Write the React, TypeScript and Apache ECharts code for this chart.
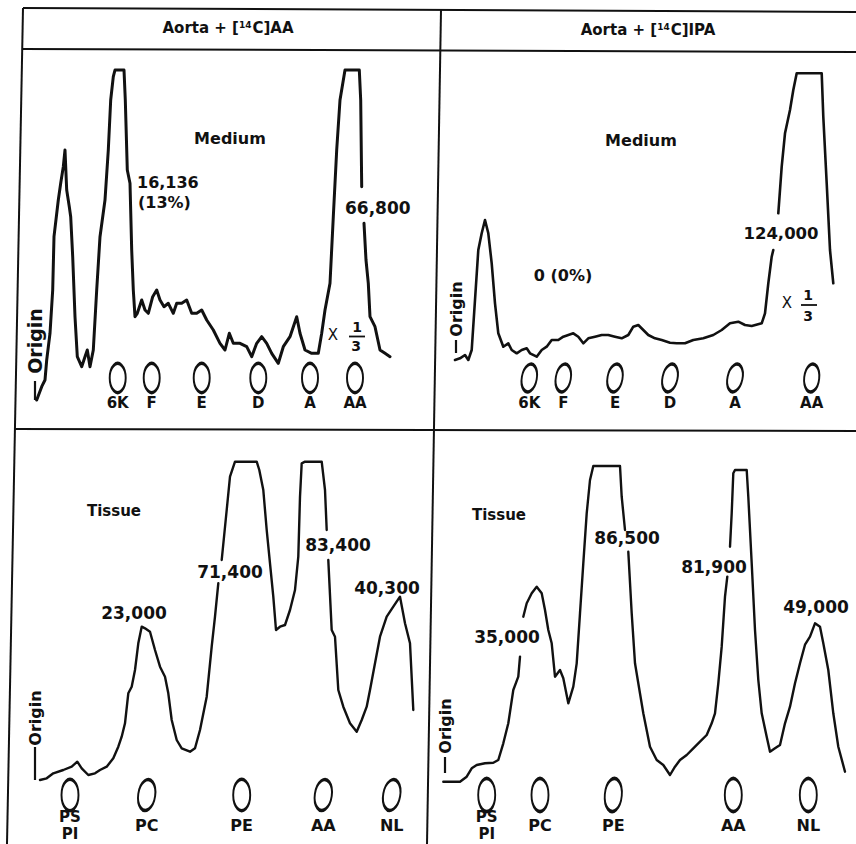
import React, { useEffect, useRef } from "react";
import * as echarts from "echarts";

type Pt = [number, number | null];

// Traces: x = distance along the strip (scan units), y = radioactivity (scan units)
const TL_TRACE: Pt[] = [
  [22.7, 29], [27.7, 42.3], [31, 49], [32.7, 69], [36, 95.7], [38.7, 139], [40, 192.3], [44.3, 229],
  [46.7, 245.7], [49.3, 262.3], [51, 279], [52.7, 239], [55.3, 222.3], [56.7, 212.3], [58.7, 172.3],
  [61, 112.3], [63.3, 72.3], [67.7, 62.3], [71, 72.3], [73.3, 79], [76, 62.3], [79.3, 79], [82.7, 139],
  [86, 192.3], [91, 229], [94.3, 279], [96.7, 329], [99.3, 352.3], [101, 359], [110, 359], [111.3, 329],
  [113.3, 259], [116, 245.7], [117.7, 179], [119.3, 139], [121, 112.3], [123.3, 115.7], [127.7, 129],
  [131, 119], [134.3, 115.7], [138.7, 132.3], [142.7, 139], [146, 129], [150, 122.3], [154.3, 125.7],
  [159.3, 115.7], [162.7, 125.7], [167.7, 125.7], [172.7, 129], [177.7, 115.7], [182.7, 115.7],
  [187.7, 119], [192.7, 109], [199.3, 99], [206, 85.7], [211, 79], [215.3, 95.7], [219.3, 85.7],
  [226, 85.7], [232.7, 82.3], [237.7, 72.3], [242.7, 85.7], [247.7, 92.3], [252.7, 85.7], [257.7, 75.7],
  [264.3, 65.7], [269.3, 82.3], [276, 92.3], [282.7, 112.3], [286, 95.7], [291, 79], [297.7, 75.7],
  [304.3, 75.7], [307.7, 95.7], [311, 119], [316, 145.7], [319.3, 212.3], [322.7, 279], [326, 329],
  [331, 359], [345.3, 359], [346.7, 329], [347.7, 242.3], [348.8, null], [350, 205.7], [352, 169],
  [354.3, 145.7], [356, 112.3], [361, 102.3], [366, 79], [371, 75.7], [376, 72.3],
];

const TR_TRACE: Pt[] = [
  [15, 69], [20, 70.7], [25, 74], [28.3, 69], [31.7, 79], [35, 129], [38.3, 179], [41.7, 195.7],
  [45, 209], [48.3, 195.7], [51.7, 165.7], [55, 125.7], [58.3, 95.7], [63.3, 82.3], [68.3, 85.7],
  [71.7, 79], [76.7, 75.7], [81.7, 79], [86.7, 80.7], [90, 75.7], [96.7, 72.3], [101.7, 79],
  [106.7, 82.3], [111.7, 89], [118.3, 89], [123.3, 92.3], [128.3, 94], [133.3, 95.7], [138.3, 92.3],
  [143.3, 85.7], [148.3, 90.7], [155, 92.3], [161.7, 94], [168.3, 94], [175, 92.3], [181.7, 90.7],
  [188.3, 94], [193.3, 102.3], [198.3, 104], [203.3, 99], [208.3, 94], [215, 90.7], [221.7, 89],
  [230, 86.3], [236.7, 85.7], [245, 85.7], [253.3, 89], [263.3, 90.7], [273.3, 94], [281.7, 99],
  [290, 105.7], [298.3, 107.3], [305, 104], [311.7, 103], [321.7, 105.7], [325, 115.7], [328.3, 145.7],
  [331.7, 172.3], [333.3, 179], [335.8, null], [338.3, 215.7], [341.7, 262.3], [345, 295.7], [350, 319],
  [353.3, 339], [356.7, 355.7], [381.7, 355.7], [383.3, 312.3], [386.7, 245.7], [390, 179], [393.3, 145.7],
];

const BL_TRACE: Pt[] = [
  [26, 64], [32.7, 65.7], [39.3, 70.7], [49.3, 74], [57.7, 77.3], [63.3, 82.3], [67.7, 75.7], [74.3, 69],
  [81, 70.7], [86, 74], [92.7, 77.3], [99.3, 85.7], [104.3, 97.3], [107.7, 107.3], [111, 120.7],
  [114.3, 150.7], [117.7, 157.3], [121, 174], [124.3, 200.7], [127.7, 217.3], [131, 215.7], [136, 212.3],
  [141, 194], [146, 177.3], [151, 167.3], [154.3, 150.7], [157.7, 124], [162.7, 104], [167.7, 95.7],
  [176, 92.3], [181, 95.7], [186, 114], [192.7, 147.3], [197.7, 197.3], [201, 227.3], [204.3, 260.7],
  [206, null], [207.7, 284], [212.7, 334], [216, 367.3], [221, 382.3], [242.7, 382.3], [245.3, 374],
  [249.3, 354], [252.7, 314], [256, 280.7], [259.3, 247.3], [262, 214], [266, 217.3], [271, 219],
  [276, 234], [281, 254], [284.3, 287.3], [286, 347.3], [287.7, 380.7], [291, 382.3], [307.7, 382.3],
  [311, 354], [312.7, 314], [313.5, null], [314.3, 284], [317.7, 214], [321, 207.3], [324.3, 154],
  [329.3, 137.3], [336, 120.7], [342.7, 112.3], [347.7, 124], [352.7, 137.3], [356, 154], [361, 180.7],
  [366, 207.3], [372.7, 227.3], [379.3, 237.3], [386, 247.3], [391, 220.7], [396, 200.7], [399.3, 134],
];

const BR_TRACE: Pt[] = [
  [3.3, 62.3], [20, 62.3], [26.7, 67.3], [31.7, 75.7], [36.7, 79], [45, 80.7], [53.3, 81.3], [58.3, 84],
  [63.3, 100.7], [68.3, 120.7], [73.3, 154], [78.3, 167.3], [80, 187.3], [81.7, null], [83.3, 227.3],
  [86.7, 240.7], [91.7, 250.7], [96.7, 257.3], [101.7, 250.7], [105, 234], [108.3, 214], [111.7, 200.7],
  [115, 167.3], [120, 174], [123.3, 165.7], [128.3, 140.7], [133.3, 157.3], [136.7, 180.7], [140, 230.7],
  [143.3, 280.7], [146.7, 330.7], [150, 364], [153.3, 378], [180, 378], [181.7, 347.3], [185, 314],
  [186.7, null], [188.3, 292.3], [191.7, 230.7], [195, 180.7], [198.3, 160.7], [203.3, 130.7], [210, 97.3],
  [216.7, 84], [223.3, 79], [230, 69], [235, 77.3], [240, 84], [246.7, 89], [253.3, 95.7], [260, 102.3],
  [266.7, 109], [271.7, 120.7], [275, 130.7], [278.3, 160.7], [281.7, 197.3], [285, 247.3], [287.3, 267.3],
  [288.7, null], [290, 297.3], [291.7, 330.7], [293.3, 370.7], [295, 374], [306.7, 374], [308.3, 347.3],
  [311.7, 280.7], [315, 214], [318.3, 164], [321.7, 130.7], [326.7, 107.3], [330, 92.3], [335, 95.7],
  [340, 99], [345, 120.7], [350, 137.3], [355, 160.7], [360, 180.7], [365, 199.3], [370, 207.3],
  [375, 220.7], [380, 217.3], [383.3, 200.7], [388.3, 174], [393.3, 130.7], [398.3, 97.3], [405, 72.3],
];

// Reference spots (standards) and their positions along the strip
const MEDIUM_SPOTS = ["6K", "F", "E", "D", "A", "AA"];
const TL_SPOT_X = [103.7, 137.7, 187.7, 244.3, 296, 341];
const TR_SPOT_X = [89.3, 123.3, 175, 230, 295, 371.7];
const TISSUE_SPOTS = ["PS\nPI", "PC", "PE", "AA", "NL"];
const BL_SPOT_X = [56, 132.7, 227.7, 309.3, 377.7];
const BR_SPOT_X = [46.7, 100, 173.3, 293.3, 368.3];

// Texts
const HEADERS = ["Aorta + [{s|14}C]AA", "Aorta + [{s|14}C]IPA"];
const TL_NOTES = ["Medium", "16,136", "(13%)", "66,800"];
const TR_NOTES = ["Medium", "0 (0%)", "124,000"];
const BL_NOTES = ["Tissue", "23,000", "71,400", "83,400", "40,300"];
const BR_NOTES = ["Tissue", "35,000", "86,500", "81,900", "49,000"];

const FONT = "DejaVu Sans";
const INK = "#111";

export default function App() {
  const ref = useRef<HTMLDivElement>(null);
  useEffect(() => {
    if (!ref.current) return;
    const chart = echarts.init(ref.current, undefined, { renderer: "svg" });

    const panels = [
      { grid: { left: 14, top: 49, width: 426, height: 380 }, trace: TL_TRACE, names: MEDIUM_SPOTS, sx: TL_SPOT_X, sy: 51, ly: 26, size: [16, 29], tilt: [0, 0, 0, 0, 0, 0], lw: 3, fs: 15 },
      { grid: { left: 440, top: 49, width: 416, height: 380 }, trace: TR_TRACE, names: MEDIUM_SPOTS, sx: TR_SPOT_X, sy: 51, ly: 26, size: [15, 28], tilt: [-10, -10, -10, -12, -12, -6], lw: 2.6, fs: 15 },
      { grid: { left: 14, top: 429, width: 426, height: 415 }, trace: BL_TRACE, names: TISSUE_SPOTS, sx: BL_SPOT_X, sy: 49, ly: 19, size: [17, 31], tilt: [0, -8, 0, -8, -10], lw: 2.4, fs: 16 },
      { grid: { left: 440, top: 429, width: 416, height: 415 }, trace: BR_TRACE, names: TISSUE_SPOTS, sx: BR_SPOT_X, sy: 49, ly: 19, size: [17, 33], tilt: [0, 0, -5, 0, 0], lw: 2.4, fs: 16 },
    ];

    const series: any[] = [];
    panels.forEach((p, i) => {
      series.push({
        type: "line", xAxisIndex: i, yAxisIndex: i, data: p.trace, showSymbol: false, symbol: "none",
        lineStyle: { color: INK, width: p.lw, join: "round", cap: "round" }, silent: true, z: 3,
      });
      series.push({
        type: "scatter", xAxisIndex: i, yAxisIndex: i, symbol: "circle", symbolSize: p.size,
        data: p.sx.map((x, k) => ({ name: p.names[k], value: [x, p.sy], symbolRotate: p.tilt[k] })),
        itemStyle: { color: "rgba(255,255,255,0)", borderColor: INK, borderWidth: 2.6, opacity: 1 }, silent: true, z: 3,
      });
      series.push({
        type: "scatter", xAxisIndex: i, yAxisIndex: i, symbolSize: 1,
        data: p.sx.map((x, k) => ({ name: p.names[k], value: [x, p.ly] })),
        itemStyle: { color: "rgba(255,255,255,0)", opacity: 1 },
        label: {
          show: true, position: "inside", formatter: (d: any) => d.name.includes("\n") ? "{s|" + d.name.replace("\n", "}\n{s|") + "}" : d.name,
          color: INK, opacity: 1, fontFamily: FONT, fontWeight: "bold", fontSize: p.fs,
          rich: { s: { color: INK, fontFamily: FONT, fontWeight: "bold", fontSize: 15, lineHeight: 17 } },
        },
        silent: true, z: 3,
      });
    });

    const txt = (text: string, x: number, y: number, size: number, align = "center", weight = "bold", rot = 0) => ({
      type: "text", x, y, rotation: rot, silent: true, z: 10,
      style: { text, fill: INK, fontFamily: FONT, fontWeight: weight, fontSize: size, textAlign: align, textVerticalAlign: "middle" },
    });
    const ln = (x1: number, y1: number, x2: number, y2: number, w = 2) => ({
      type: "line", silent: true, z: 10, shape: { x1, y1, x2, y2 }, style: { stroke: INK, lineWidth: w },
    });
    const head = (text: string, x: number, y: number) => ({
      type: "text", x, y, silent: true, z: 10,
      style: {
        text, fill: INK, fontFamily: FONT, fontWeight: "bold", fontSize: 15, textAlign: "center", textVerticalAlign: "middle",
        rich: { s: { fontSize: 9, fontFamily: FONT, fontWeight: "bold", fill: INK, verticalAlign: "top", padding: [0, 1, 0, 0] } },
      },
    });

    const graphic: any[] = [
      // frame
      ln(23, 8, 7, 844), ln(23, 8, 856, 12), ln(23, 49, 856, 52), ln(441, 10, 427, 844), ln(14, 429, 856, 431),
      head(HEADERS[0], 228, 28), head(HEADERS[1], 648, 30),
      // top-left
      txt(TL_NOTES[0], 230, 138, 16), txt(TL_NOTES[1], 137, 182, 16, "left"), txt(TL_NOTES[2], 138, 202, 16, "left"),
      txt(TL_NOTES[3], 345, 208, 17, "left"),
      txt("X", 333, 335, 15, "center", "normal"), txt("1", 357, 327, 14), ln(349, 336.5, 365, 336.5, 1.8), txt("3", 356, 346, 14),
      txt("Origin", 35, 341, 19, "center", "bold", Math.PI / 2), ln(35, 381, 35, 400, 2.2),
      // top-right
      txt(TR_NOTES[0], 641, 140, 16), txt(TR_NOTES[1], 563, 275, 16), txt(TR_NOTES[2], 781, 233, 16.5),
      txt("X", 787, 303, 15, "center", "normal"), txt("1", 808, 295, 14), ln(801, 305, 817, 305, 1.8), txt("3", 808, 315.5, 14),
      txt("Origin", 456, 309, 16, "center", "bold", Math.PI / 2), ln(456, 340, 456, 353, 2.2),
      // bottom-left
      txt(BL_NOTES[0], 114, 511, 15), txt(BL_NOTES[1], 134, 613, 17), txt(BL_NOTES[2], 230, 572, 17),
      txt(BL_NOTES[3], 338, 545, 17), txt(BL_NOTES[4], 387, 588, 17),
      txt("Origin", 35, 718, 16, "center", "bold", Math.PI / 2), ln(35, 747, 35, 780, 2.2),
      // bottom-right
      txt(BR_NOTES[0], 499, 515, 15), txt(BR_NOTES[1], 507, 637, 17), txt(BR_NOTES[2], 627, 538, 17),
      txt(BR_NOTES[3], 714, 567, 17), txt(BR_NOTES[4], 816, 607, 17),
      txt("Origin", 445, 726, 16, "center", "bold", Math.PI / 2), ln(445, 757, 445, 773, 2.2),
    ];

    chart.setOption({
      animation: false,
      backgroundColor: "#fff",
      grid: panels.map((p) => ({ ...p.grid })),
      xAxis: panels.map((p, i) => ({ type: "value", gridIndex: i, min: 0, max: p.grid.width, show: false })),
      yAxis: panels.map((p, i) => ({ type: "value", gridIndex: i, min: 0, max: p.grid.height, show: false })),
      series,
      graphic,
    });
    return () => chart.dispose();
  }, []);
  return <div ref={ref} style={{ position: "fixed", left: 0, top: 0, width: 856, height: 844 }} />;
}
